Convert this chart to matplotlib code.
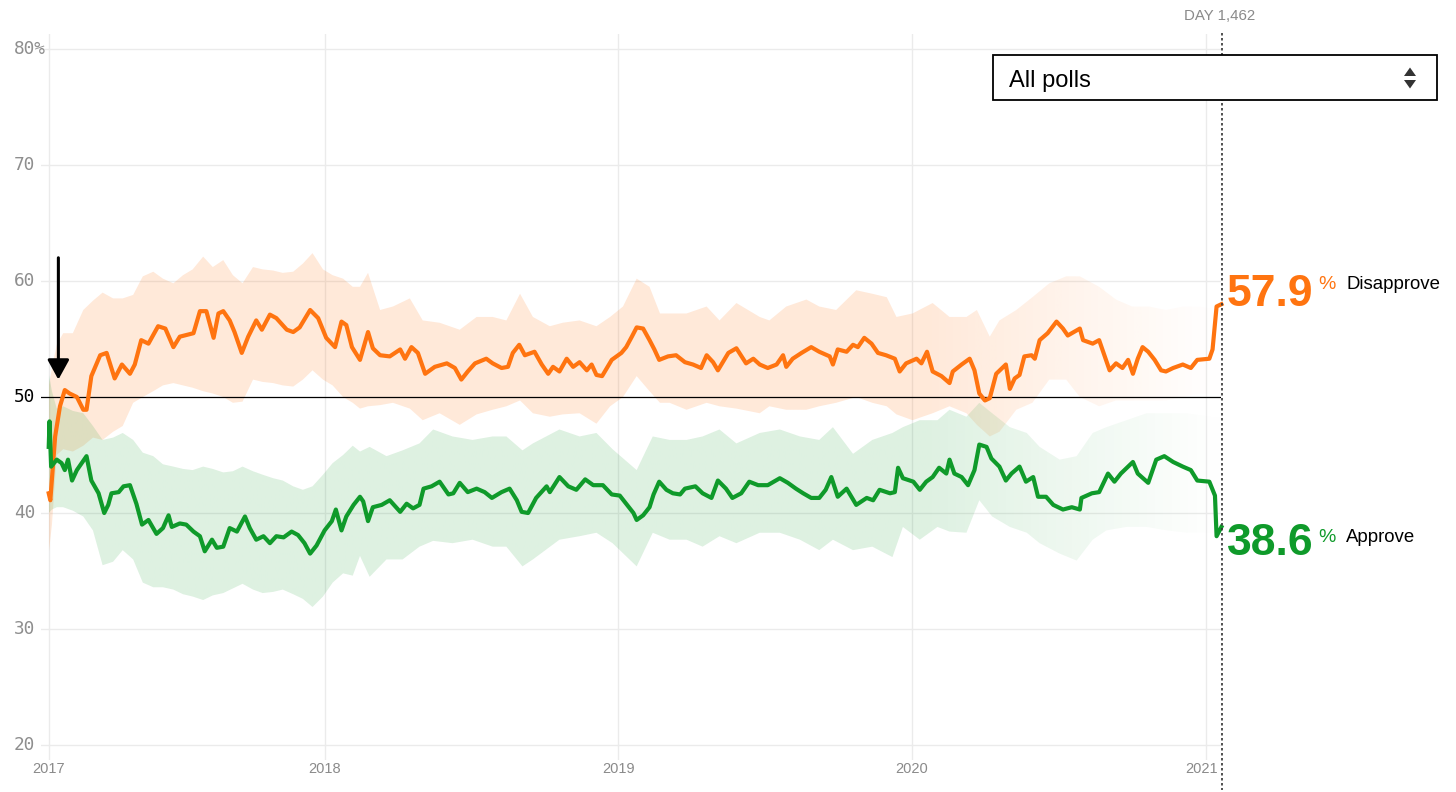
import numpy as np
import matplotlib
matplotlib.use("Agg")
import matplotlib.pyplot as plt
from matplotlib.patches import Polygon, Rectangle
from matplotlib.lines import Line2D
from matplotlib.colors import to_rgb
import matplotlib.transforms as mtransforms

# ---------------- data (x = days since 2017-01-23) ----------------
dis_days = [0, 2, 8, 14, 20, 26, 35, 43, 47, 53, 64, 72, 82, 91, 101, 107, 115, 124, 136, 145,
            155, 163, 180, 188, 196, 205, 211, 217, 225, 231, 240, 248, 258, 265, 275, 283, 296, 304,
            312, 325, 335, 345, 356, 364, 370, 377, 387, 397, 403, 412, 424, 437, 443, 451, 459, 468,
            480, 495, 505, 513, 521, 530, 544, 552, 563, 571, 577, 585, 592, 604, 613, 621, 627, 635,
            644, 652, 660, 669, 675, 681, 688, 700, 712, 718, 725, 731, 739, 747, 753, 759, 770, 780,
            791, 801, 811, 818, 826, 832, 845, 855, 867, 876, 884, 894, 905, 913, 917, 925, 936, 948,
            958, 971, 975, 981, 992, 1000, 1006, 1014, 1023, 1031, 1041, 1052, 1058, 1066, 1079, 1085,
            1092, 1099, 1110, 1120, 1124, 1135, 1145, 1151, 1157, 1164, 1170, 1178, 1190, 1195, 1201,
            1207, 1213, 1222, 1226, 1232, 1242, 1253, 1261, 1267, 1282, 1286, 1298, 1306, 1311, 1319,
            1327, 1335, 1342, 1348, 1354, 1360, 1367, 1375, 1383, 1389, 1398, 1410, 1420, 1428, 1443,
            1447, 1452, 1458]
disapprove = [41.7, 41.1, 46.6, 49.2, 50.6, 50.3, 50.0, 48.9, 48.9, 51.8, 53.6, 53.8, 51.6, 52.8, 52.0,
              52.8, 54.9, 54.6, 56.1, 55.9, 54.3, 55.2, 55.5, 57.4, 57.4, 55.1, 57.2, 57.4, 56.6, 55.6,
              53.8, 55.2, 56.6, 55.8, 57.1, 56.8, 55.8, 55.6, 56.0, 57.5, 56.8, 55.1, 54.3, 56.5, 56.2,
              54.3, 53.2, 55.6, 54.2, 53.6, 53.5, 54.1, 53.3, 54.3, 53.8, 52.0, 52.6, 52.9, 52.5, 51.5,
              52.2, 52.9, 53.3, 52.9, 52.5, 52.6, 53.8, 54.5, 53.6, 53.9, 52.8, 52.0, 52.6, 52.2, 53.3,
              52.6, 53.0, 52.3, 52.8, 51.9, 51.8, 53.2, 53.8, 54.3, 55.2, 56.0, 55.9, 54.9, 54.1, 53.2,
              53.5, 53.6, 53.0, 52.8, 52.5, 53.6, 53.0, 52.3, 53.8, 54.2, 52.9, 53.3, 52.8, 52.5, 52.8,
              53.6, 52.6, 53.3, 53.8, 54.3, 53.9, 53.5, 52.8, 54.1, 53.9, 54.5, 54.3, 55.1, 54.6, 53.8,
              53.6, 53.3, 52.2, 52.9, 53.3, 52.9, 53.9, 52.2, 51.8, 51.2, 52.2, 52.8, 53.3, 52.3, 50.3,
              49.7, 49.9, 52.0, 52.8, 50.7, 51.6, 51.9, 53.5, 53.6, 53.3, 54.9, 55.5, 56.5, 55.9, 55.3,
              55.9, 54.9, 54.6, 54.9, 53.9, 52.3, 52.9, 52.5, 53.2, 52.0, 53.3, 54.3, 53.9, 53.2, 52.3,
              52.2, 52.5, 52.8, 52.5, 53.2, 53.3, 54.1, 57.8, 58.0]

app_days = [0, 1, 3, 10, 16, 20, 24, 29, 35, 41, 47, 53, 62, 69, 74, 78, 87, 93, 101, 109, 116, 124,
            134, 142, 149, 153, 163, 171, 180, 188, 194, 203, 209, 217, 225, 234, 244, 250, 258, 267,
            275, 283, 292, 302, 310, 318, 325, 333, 343, 352, 357, 364, 370, 379, 387, 391, 397, 403,
            414, 424, 437, 445, 453, 461, 466, 476, 486, 497, 503, 511, 521, 532, 542, 551, 563, 573,
            582, 588, 596, 606, 619, 623, 635, 646, 656, 667, 677, 689, 700, 710, 718, 727, 731, 739,
            747, 752, 759, 768, 776, 785, 791, 804, 813, 824, 832, 842, 850, 861, 871, 882, 894, 909,
            919, 929, 938, 948, 958, 966, 973, 981, 992, 1004, 1017, 1025, 1033, 1046, 1052, 1056,
            1062, 1075, 1083, 1091, 1099, 1107, 1116, 1120, 1126, 1135, 1143, 1151, 1157, 1166, 1172,
            1182, 1190, 1197, 1207, 1215, 1224, 1230, 1240, 1249, 1261, 1272, 1282, 1284, 1297, 1306,
            1317, 1325, 1333, 1342, 1348, 1354, 1367, 1377, 1387, 1398, 1410, 1420, 1428, 1443, 1450,
            1452, 1458]
approve = [45.7, 47.9, 44.0, 44.6, 44.3, 43.7, 44.6, 42.8, 43.7, 44.3, 44.9, 42.8, 41.7, 40.0, 40.7,
           41.7, 41.8, 42.3, 42.4, 40.8, 39.0, 39.4, 38.2, 38.7, 39.8, 38.8, 39.1, 39.0, 38.4, 38.0,
           36.7, 37.7, 37.0, 37.1, 38.7, 38.4, 39.7, 38.7, 37.7, 38.0, 37.4, 38.0, 37.9, 38.4, 38.1,
           37.4, 36.5, 37.2, 38.5, 39.3, 40.3, 38.5, 39.7, 40.7, 41.4, 41.0, 39.3, 40.5, 40.7, 41.1,
           40.1, 40.8, 40.4, 40.7, 42.1, 42.3, 42.7, 41.6, 41.7, 42.6, 41.8, 42.1, 41.8, 41.3, 41.8,
           42.1, 41.1, 40.1, 40.0, 41.3, 42.3, 41.8, 43.1, 42.3, 42.0, 42.9, 42.4, 42.4, 41.6, 41.5,
           40.8, 40.0, 39.4, 39.8, 40.5, 41.6, 42.7, 42.0, 41.7, 41.6, 42.1, 42.3, 41.7, 41.3, 42.8,
           42.1, 41.3, 41.7, 42.7, 42.4, 42.4, 43.0, 42.6, 42.1, 41.7, 41.3, 41.3, 42.0, 43.1, 41.4,
           42.1, 40.7, 41.3, 41.1, 42.0, 41.7, 41.8, 43.9, 43.0, 42.7, 42.0, 42.7, 43.1, 43.9, 43.4,
           44.6, 43.4, 43.1, 42.4, 43.7, 45.9, 45.7, 44.7, 44.0, 42.8, 43.4, 44.0, 42.7, 43.1, 41.4,
           41.4, 40.7, 40.3, 40.5, 40.3, 41.3, 41.7, 41.8, 43.4, 42.7, 43.4, 44.0, 44.4, 43.4, 42.6,
           44.6, 44.9, 44.4, 44.0, 43.7, 42.8, 42.7, 41.5, 38.0, 38.8]

dis_band_days = [0, 4, 10, 18, 30, 43, 55, 67, 80, 92, 105, 117, 130, 142, 155, 167, 179, 192, 204, 217,
                 229, 241, 254, 266, 279, 291, 304, 316, 328, 341, 353, 366, 378, 387, 397, 412, 428,
                 449, 465, 486, 511, 532, 552, 569, 586, 602, 623, 639, 660, 681, 698, 714, 731, 747,
                 760, 772, 793, 818, 834, 855, 884, 896, 917, 942, 958, 979, 1004, 1024, 1042, 1054,
                 1074, 1099, 1120, 1141, 1154, 1170, 1182, 1203, 1223, 1244, 1265, 1282, 1306, 1327,
                 1347, 1368, 1389, 1410, 1431, 1458]
dis_upper = [50.9, 52.5, 54.5, 55.5, 55.5, 57.5, 58.3, 59.0, 58.5, 58.5, 58.8, 60.4, 60.8, 60.2, 59.8,
             60.5, 61.0, 62.1, 61.2, 61.8, 60.5, 59.8, 61.2, 61.0, 60.9, 60.7, 60.8, 61.5, 62.4, 61.0,
             60.5, 60.2, 59.5, 59.5, 60.7, 57.5, 57.8, 58.5, 56.6, 56.4, 55.8, 56.9, 56.9, 56.6, 58.9,
             56.9, 56.1, 56.4, 56.6, 56.1, 56.9, 57.8, 60.2, 59.5, 57.2, 57.2, 57.2, 57.8, 56.6, 58.1,
             56.9, 56.6, 57.8, 58.4, 57.8, 57.5, 59.2, 58.9, 58.6, 56.9, 57.2, 58.1, 56.9, 56.9, 57.5,
             55.2, 56.6, 57.5, 58.6, 59.8, 60.4, 60.4, 59.5, 58.4, 57.8, 57.8, 57.5, 57.8, 57.8, 57.5]
dis_lower = [36.5, 39.0, 45.0, 45.5, 45.3, 45.8, 46.5, 46.3, 47.0, 47.5, 49.5, 50.0, 50.5, 51.0, 51.2,
             51.0, 50.8, 50.5, 50.3, 50.0, 49.5, 49.6, 51.5, 51.3, 51.2, 51.0, 50.9, 51.5, 52.3, 51.5,
             51.0, 50.0, 49.5, 49.0, 49.2, 49.3, 49.5, 49.0, 48.0, 48.6, 47.6, 48.5, 48.9, 49.2, 49.7,
             48.6, 48.3, 48.5, 48.6, 47.7, 49.2, 50.0, 51.8, 50.5, 49.5, 49.5, 48.9, 49.5, 49.2, 49.0,
             48.6, 49.2, 48.9, 48.9, 49.2, 49.5, 50.0, 49.5, 49.2, 48.5, 48.0, 48.6, 49.2, 48.6, 47.6,
             46.6, 47.0, 48.9, 49.5, 51.5, 51.5, 50.0, 49.2, 49.7, 49.7, 49.7, 49.7, 50.0, 50.3, 50.3]

app_band_days = [0, 4, 10, 18, 30, 43, 55, 67, 80, 92, 105, 117, 130, 142, 155, 167, 179, 192, 204, 217,
                 229, 241, 254, 266, 279, 291, 304, 316, 328, 341, 353, 366, 378, 387, 399, 420, 440,
                 461, 478, 502, 527, 552, 569, 589, 602, 635, 660, 681, 701, 731, 751, 772, 793, 813,
                 834, 855, 884, 909, 934, 958, 975, 1000, 1024, 1049, 1062, 1083, 1105, 1120, 1141,
                 1157, 1173, 1195, 1216, 1232, 1257, 1278, 1298, 1315, 1340, 1365, 1390, 1415, 1447, 1458]
app_upper = [52.0, 50.5, 49.0, 49.2, 48.8, 48.6, 47.5, 46.3, 46.5, 46.9, 46.3, 45.2, 44.9, 44.2, 44.0,
             43.8, 43.7, 44.0, 43.8, 43.5, 43.6, 44.0, 43.6, 43.3, 43.0, 42.8, 42.3, 42.0, 42.3, 43.3,
             44.3, 45.0, 45.8, 45.3, 45.7, 44.9, 45.4, 46.0, 47.2, 46.6, 46.3, 46.6, 46.6, 45.4, 46.0,
             47.2, 46.6, 46.9, 45.5, 43.7, 46.6, 46.3, 46.3, 46.6, 47.2, 46.0, 46.9, 47.2, 46.6, 46.3,
             47.4, 45.1, 46.3, 46.9, 47.4, 48.0, 48.0, 48.9, 48.3, 49.5, 48.6, 47.4, 46.9, 45.7, 44.6,
             44.9, 46.9, 47.4, 48.0, 48.6, 48.6, 48.6, 48.3, 48.3]
app_lower = [40.0, 40.3, 40.5, 40.5, 40.2, 39.7, 38.5, 35.5, 35.8, 36.8, 36.0, 34.0, 33.6, 33.6, 33.4,
             33.0, 32.8, 32.5, 32.9, 33.1, 33.5, 33.9, 33.4, 33.1, 33.2, 33.4, 33.0, 32.6, 31.9, 32.8,
             34.0, 34.8, 34.6, 36.3, 34.5, 36.0, 36.0, 37.1, 37.6, 37.4, 37.7, 37.1, 37.1, 35.4, 36.0,
             37.7, 38.0, 38.3, 37.4, 35.4, 38.3, 37.7, 37.7, 37.1, 38.0, 37.4, 38.3, 38.3, 37.7, 36.8,
             37.7, 36.8, 37.1, 36.2, 38.8, 37.7, 38.8, 38.4, 38.3, 41.1, 39.7, 38.8, 38.3, 37.4, 36.5,
             35.9, 37.7, 38.5, 38.8, 38.8, 38.5, 38.3, 38.3, 38.3]

year_tick_days = [0, 343, 708, 1073, 1439]
year_labels = ["2017", "2018", "2019", "2020", "2021"]
y_ticks = [20, 30, 40, 50, 60, 70, 80]
y_labels = ["20", "30", "40", "50", "60", "70", "80%"]
day_marker = 1458
disapprove_now = "57.9"
approve_now = "38.6"

ORANGE = "#ff7410"
GREEN = "#0f9a2a"

W, H = 1456, 792
fig = plt.figure(figsize=(W / 100, H / 100), dpi=100)

def fx(px):
    return px / W

def fy(py):
    return 1 - py / H

ax = fig.add_axes([fx(41), fy(760), (1221 - 41) / W, (760 - 34) / H])
ax.set_xlim(-9.6, 1457.5)
ax.set_ylim(18.71, 81.29)
ax.axis("off")

# grid
for yv in y_ticks:
    if yv == 50:
        continue
    ax.axhline(yv, color="#ebebeb", lw=1.0, zorder=0)
for xv in year_tick_days:
    ax.axvline(xv, color="#ebebeb", lw=1.0, zorder=0)


def gradient_band(x, lo, hi, color, amax):
    x = np.asarray(x, float)
    verts = np.vstack([np.column_stack([x, hi]), np.column_stack([x[::-1], np.asarray(lo)[::-1]])])
    patch = Polygon(verts, closed=True, facecolor="none", edgecolor="none", transform=ax.transData)
    ax.add_patch(patch)
    n = 600
    xs = np.linspace(x.min(), x.max(), n)
    alpha = np.clip((day_marker - xs) / (day_marker - 1090), 0.04, 1.0) * amax
    img = np.zeros((1, n, 4))
    img[..., :3] = to_rgb(color)
    img[0, :, 3] = alpha
    im = ax.imshow(img, extent=[x.min(), x.max(), 25, 70], aspect="auto", origin="lower",
                   interpolation="bilinear", zorder=1)
    im.set_clip_path(patch)


gradient_band(dis_band_days, dis_lower, dis_upper, ORANGE, 0.16)
gradient_band(app_band_days, app_lower, app_upper, GREEN, 0.14)
ax.set_xlim(-9.6, 1457.5)
ax.set_ylim(18.71, 81.29)

ax.axhline(50, color="black", lw=0.9, zorder=2)

ax.plot(dis_days, disapprove, color=ORANGE, lw=3.0, zorder=4, solid_joinstyle="round", clip_on=False)
ax.plot(app_days, approve, color=GREEN, lw=3.0, zorder=4, solid_joinstyle="round", clip_on=False)

# arrow
ax.annotate("", xy=(12, 51.5), xytext=(12, 62.0),
            arrowprops=dict(arrowstyle="-|>,head_length=0.4,head_width=0.22", lw=2.2,
                            color="black", mutation_scale=30, shrinkA=0, shrinkB=0), zorder=6)

# y labels
ytrans = mtransforms.blended_transform_factory(fig.transFigure, ax.transData)
for yv, lab in zip(y_ticks, y_labels):
    ax.text(fx(14), yv, lab, transform=ytrans, ha="left", va="center",
            family="DejaVu Sans Mono", fontsize=12.8,
            color="black" if yv == 50 else "#8e8e8e")

# x labels (last one nudged left so it clears the marker line)
xtrans = mtransforms.blended_transform_factory(ax.transData, fig.transFigure)
for i, (xv, lab) in enumerate(zip(year_tick_days, year_labels)):
    tr = xtrans
    if i == len(year_tick_days) - 1:
        tr = xtrans + mtransforms.ScaledTranslation(-4.5 / 100, 0, fig.dpi_scale_trans)
    ax.text(xv, fy(769), lab, transform=tr, ha="center", va="center",
            family="Liberation Sans", fontsize=10.5, color="#8a8a8a")

# dotted marker line
fig.add_artist(Line2D([fx(1221.5), fx(1221.5)], [fy(33), fy(790)], color="#333333",
                      lw=1.2, linestyle=(0, (1.5, 1.5)), zorder=3))
fig.text(fx(1220), fy(20), "DAY 1,462", ha="center", va="baseline",
         family="Liberation Sans", fontsize=10.8, color="#8a8a8a")

# dropdown box
fig.add_artist(Rectangle((fx(993), fy(100)), (1437 - 993) / W, 45 / H, transform=fig.transFigure,
                         facecolor="white", edgecolor="black", lw=1.3, zorder=10))
fig.text(fx(1009), fy(86.5), "All polls", ha="left", va="baseline", family="Liberation Sans",
         fontsize=17, color="black", zorder=11)
fig.add_artist(Polygon([[fx(1404), fy(76)], [fx(1416), fy(76)], [fx(1410), fy(67.5)]],
                       closed=True, transform=fig.transFigure, facecolor="#333333",
                       edgecolor="none", zorder=11))
fig.add_artist(Polygon([[fx(1404), fy(80)], [fx(1416), fy(80)], [fx(1410), fy(88.5)]],
                       closed=True, transform=fig.transFigure, facecolor="#333333",
                       edgecolor="none", zorder=11))

# end labels
fig.text(fx(1227), fy(306), disapprove_now, ha="left", va="baseline", family="Liberation Sans",
         fontweight="bold", fontsize=32, color=ORANGE)
fig.text(fx(1318), fy(289), "%", ha="left", va="baseline", family="Liberation Sans",
         fontsize=14, color=ORANGE)
fig.text(fx(1346), fy(289), "Disapprove", ha="left", va="baseline", family="Liberation Sans",
         fontsize=13.4, color="black")

fig.text(fx(1227), fy(555), approve_now, ha="left", va="baseline", family="Liberation Sans",
         fontweight="bold", fontsize=32, color=GREEN)
fig.text(fx(1318), fy(541.5), "%", ha="left", va="baseline", family="Liberation Sans",
         fontsize=14, color=GREEN)
fig.text(fx(1346), fy(541.5), "Approve", ha="left", va="baseline", family="Liberation Sans",
         fontsize=13.4, color="black")

fig.savefig("out.png", dpi=100, facecolor="white")
